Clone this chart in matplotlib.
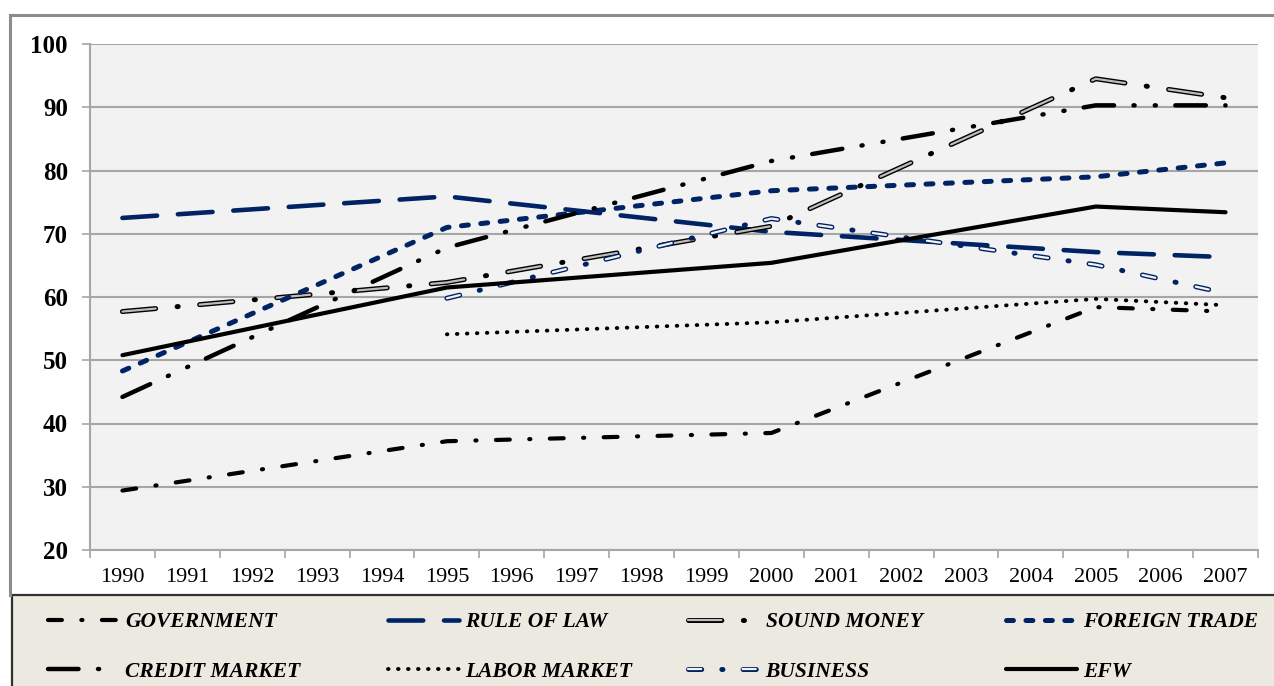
import numpy as np
import matplotlib
matplotlib.use('Agg')
from matplotlib import pyplot as plt
from matplotlib.patches import Rectangle
from matplotlib.lines import Line2D
from matplotlib.legend_handler import HandlerTuple

W, H = 1274, 686
plt.rcParams['lines.scale_dashes'] = False
plt.rcParams['font.family'] = ['Liberation Serif', 'DejaVu Serif']

# ---------------------------------------------------------------- data
years      = [str(y) for y in range(1990, 2008)]
data_years = [1990, 1995, 2000, 2005, 2007]

government    = [29.4, 37.2, 38.5, 58.4, 57.7]
rule_of_law   = [72.5, 75.9, 70.3, 67.1, 66.3]
sound_money   = [57.7, 62.3, 71.2, 94.5, 91.5]
foreign_trade = [48.3, 71.0, 76.8, 79.0, 81.2]
credit_market = [44.2, 67.8, 81.5, 90.3, 90.3]
labor_market  = [np.nan, 54.1, 56.0, 59.7, 58.7]
business      = [np.nan, 59.8, 72.4, 65.1, 60.6]
efw           = [50.8, 61.5, 65.4, 74.3, 73.4]

NAVY = '#002366'

# (name, values, colour, width, dash pattern, inner colour for double lines)
series = [
  ('GOVERNMENT',    government,    'black', 3.0, (10, 14, 0.8, 14),               None),
  ('RULE OF LAW',   rule_of_law,   NAVY,    3.3, (25, 15),                        None),
  ('SOUND MONEY',   sound_money,   'black', 3.6, (24, 15.5, 0.8, 15.5),           '#BDBDBD'),
  ('FOREIGN TRADE', foreign_trade, NAVY,    3.6, (5, 9),                          None),
  ('CREDIT MARKET', credit_market, 'black', 3.2, (22, 14, 0.8, 14.5, 0.8, 14),    None),
  ('LABOR MARKET',  labor_market,  'black', 2.8, (0.4, 6.8),                      None),
  ('BUSINESS',      business,      NAVY,    3.6, (9.5, 14.5, 0.8, 14.5),          '#F4F4F4'),
  ('EFW',           efw,           'black', 3.0, None,                            None),
]

# ---------------------------------------------------------------- figure
fig = plt.figure(figsize=(W / 100, H / 100), dpi=100)
fig.patch.set_facecolor('white')

ax = fig.add_axes([90 / W, 1 - 550 / H, (1258 - 90) / W, (550 - 44) / H])
ax.set_facecolor('#F2F2F2')

xpos = [years.index(str(y)) for y in data_years]
handles = []
for name, vals, color, lw, dashes, inner in series:
  kw = dict(color=color, linewidth=lw, label=name,
            solid_capstyle='round', dash_capstyle='round', zorder=3)
  if dashes is not None:
    kw['dashes'] = dashes
  line, = ax.plot(xpos, vals, **kw)
  if inner is None:
    handles.append(line)
    continue
  # double line: thin light stroke inside the dashes only (dots stay solid)
  on = dashes[0]
  inner_dashes = (on, sum(dashes) - on)
  core, = ax.plot(xpos, vals, color=inner, linewidth=lw - 2.0,
                  dashes=inner_dashes, dash_capstyle='round', zorder=3)
  handles.append((line, core))

ax.set_xlim(-0.5, len(years) - 0.5)
ax.set_ylim(20, 100)
ax.set_yticks(range(20, 101, 10))
ax.yaxis.grid(True, color='#A6A6A6', linewidth=1.5, zorder=0)
ax.set_axisbelow(True)

ax.set_xticks(range(len(years)))
ax.set_xticklabels(years, fontsize=16)
ax.set_xticks(np.arange(-0.5, len(years)), minor=True)
ax.tick_params(axis='x', which='major', length=0, pad=13)
ax.tick_params(axis='x', which='minor', length=6, width=1.2, color='#A6A6A6')
ax.tick_params(axis='y', length=6, width=1.2, color='#A6A6A6', pad=10)
for t in ax.get_yticklabels():
  t.set_fontsize(18)
  t.set_fontweight('bold')

for s in ['top', 'right']:
  ax.spines[s].set_visible(False)
for s in ['left', 'bottom']:
  ax.spines[s].set_color('#A6A6A6')
  ax.spines[s].set_linewidth(1.5)

# ---------------------------------------------------------------- frames
fig.add_artist(Line2D([10 / W, 1], [1 - 15 / H, 1 - 15 / H], color='#8C8C8C',
                      linewidth=2.2, transform=fig.transFigure))
fig.add_artist(Line2D([10 / W, 10 / W], [1 - 15 / H, 1 - 595 / H], color='#8C8C8C',
                      linewidth=2.2, transform=fig.transFigure))
fig.add_artist(Rectangle((12 / W, -0.05), 1.0, 0.05 + (686 - 595) / H,
                         transform=fig.transFigure, facecolor='#ECE9E0',
                         edgecolor='#303030', linewidth=1.6, zorder=1))

# ---------------------------------------------------------------- legend
labels = [s[0] for s in series]
col_x = [48, 388, 688, 1006]
for c, x0 in enumerate(col_x):
  hh = [handles[c], handles[c + 4]]
  leg = fig.legend(hh, [labels[c], labels[c + 4]],
                   loc='upper left', bbox_to_anchor=(x0 / W, 1 - 612 / H),
                   frameon=False, borderpad=0, borderaxespad=0,
                   handlelength=3.3, handletextpad=0.3, labelspacing=1.38,
                   handler_map={tuple: HandlerTuple(ndivide=1, pad=0)},
                   prop={'family': 'Liberation Serif', 'style': 'italic',
                         'weight': 'bold', 'size': 15.5})
  leg.set_zorder(5)

fig.savefig('out.png', dpi=100)
